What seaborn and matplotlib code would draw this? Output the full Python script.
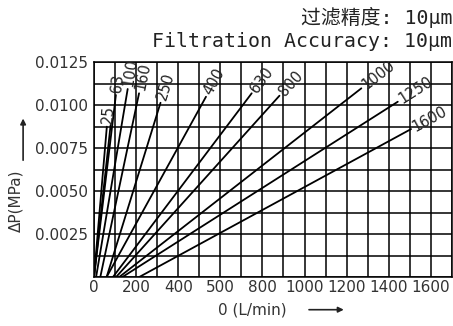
import numpy as np
import pandas as pd
import seaborn as sns
import matplotlib.pyplot as plt

sns.set_style('white')
plt.rcParams['font.family'] = ['DejaVu Sans', 'Noto Sans CJK SC']

# filter curves: flow where dP = 0, and the top end of each curve
models = ['25', '', '63', '100', '160', '250', '400', '630', '800', '1000', '1250', '1600']
flow_start = [0, 0, 0, 10, 30, 60, 60, 90, 105, 120, 135, 215]
flow_end = [61, 79, 104, 160, 214, 316, 532, 749, 881, 1270, 1443, 1506]
dp_end = [0.00874, 0.00884, 0.01058, 0.01093, 0.01068, 0.01013, 0.01048, 0.01068, 0.01054, 0.01097, 0.01019, 0.0086]

x_ticks = [0, 200, 400, 600, 800, 1000, 1200, 1400, 1600]
x_ticklabels = ['0', '200', '400', '500', '800', '1000', '1200', '1400', '1600']
y_ticks = [0.0025, 0.0050, 0.0075, 0.0100, 0.0125]

rows = []
for i, m in enumerate(models):
    rows.append({'curve': i, 'flow': flow_start[i], 'dp': 0.0})
    rows.append({'curve': i, 'flow': flow_end[i], 'dp': dp_end[i]})
df = pd.DataFrame(rows)

fig = plt.figure(figsize=(4.53, 3.26), dpi=100)
ax = fig.add_axes([0.2075, 0.1503, 0.790, 0.6595])

sns.lineplot(data=df, x='flow', y='dp', units='curve', estimator=None,
             color='black', lw=1.3, ax=ax, legend=False)

ax.set_xlim(0, 1700)
ax.set_ylim(0, 0.0125)
ax.set_xticks(np.arange(0, 1701, 100), minor=False)
ax.set_yticks(np.arange(0, 0.01251, 0.00125))
ax.grid(True, color='black', lw=1.1)
ax.set_xticklabels([x_ticklabels[x_ticks.index(t)] if t in x_ticks else '' for t in np.arange(0, 1701, 100)])
ax.set_yticklabels(['%.4f' % t if any(abs(t - y) < 1e-9 for y in y_ticks) else '' for t in np.arange(0, 0.01251, 0.00125)])
ax.tick_params(length=0, labelsize=11, labelcolor='#333333')
ax.tick_params(axis='x', pad=2)
ax.tick_params(axis='y', pad=4)
for s in ax.spines.values():
    s.set_color('black')
    s.set_linewidth(1.1)
ax.set_xlabel('')
ax.set_ylabel('')

# curve labels, placed along each curve beyond its top end
fig.canvas.draw()
for i, m in enumerate(models):
    if not m:
        continue
    p0 = ax.transData.transform((flow_start[i], 0))
    p1 = ax.transData.transform((flow_end[i], dp_end[i]))
    ang = np.degrees(np.arctan2(p1[1] - p0[1], p1[0] - p0[0]))
    d = 3.4 * len(m) + 2
    ax.annotate(m, (flow_end[i], dp_end[i]),
                xytext=(d * np.cos(np.radians(ang)), d * np.sin(np.radians(ang))),
                textcoords='offset points', rotation=ang, rotation_mode='anchor',
                ha='center', va='center', fontsize=10.5, color='#222222',
                annotation_clip=False)

mono = ['DejaVu Sans Mono', 'Noto Sans CJK SC']
fig.text(0.998, 0.945, '过滤精度: 10μm', family=mono, fontsize=14.3, ha='right', va='center', color='#222222')
fig.text(0.998, 0.872, 'Filtration Accuracy: 10μm', family=mono, fontsize=14.3, ha='right', va='center', color='#222222')

fig.text(0.557, 0.05, '0 (L/min)', fontsize=11, ha='center', va='center', color='#333333')
ax.annotate('', xy=(0.765, 0.05), xytext=(0.676, 0.05), xycoords='figure fraction',
            annotation_clip=False,
            arrowprops=dict(arrowstyle='-|>', color='#222222', lw=1.2, mutation_scale=8))
fig.text(0.035, 0.383, 'ΔP(MPa)', fontsize=11, rotation=90, ha='center', va='center', color='#333333')
ax.annotate('', xy=(0.051, 0.645), xytext=(0.051, 0.5), xycoords='figure fraction',
            annotation_clip=False,
            arrowprops=dict(arrowstyle='-|>', color='#222222', lw=1.2, mutation_scale=8))

fig.savefig('out.png', dpi=100)
